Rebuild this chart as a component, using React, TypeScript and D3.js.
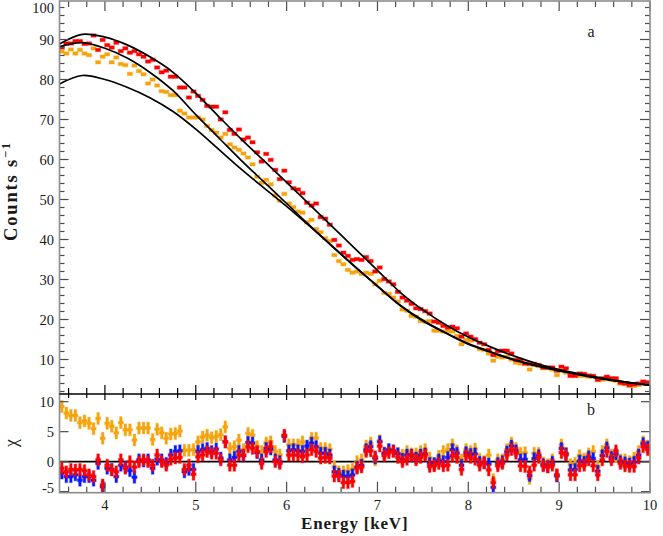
import React from 'react';
import * as d3 from 'd3';

// ---------- DATA ----------
const BIN_START = 3.5;
const BIN_WIDTH = 0.05;

// Top panel: count rates (counts/s) per 0.05 keV bin, 3.5 - 10 keV
const redCounts = [
  88.0, 89.0, 89.0, 89.6, 89.6, 88.9, 89.0, 91.0, 87.4, 89.9,
  88.6, 88.0, 89.2, 87.1, 87.8, 86.7, 87.1, 86.3, 85.7, 84.5,
  84.9, 83.0, 81.8, 82.2, 80.7, 80.7, 78.0, 78.0, 75.5, 77.0,
  75.9, 74.9, 73.4, 73.2, 73.2, 70.0, 71.8, 67.4, 66.4, 67.5,
  65.0, 65.5, 64.3, 61.8, 59.5, 61.4, 59.9, 57.4, 55.1, 57.2,
  54.3, 52.8, 52.5, 51.6, 49.2, 48.5, 49.0, 45.6, 45.2, 43.7,
  39.9, 38.5, 36.7, 35.9, 34.9, 35.1, 34.9, 35.6, 34.6, 32.0,
  33.0, 30.1, 29.5, 28.8, 26.9, 25.5, 24.7, 23.9, 22.8, 22.6,
  22.1, 21.5, 19.5, 19.2, 18.4, 18.0, 18.2, 17.8, 15.7, 16.5,
  15.7, 15.1, 14.2, 13.8, 12.4, 11.1, 12.1, 12.2, 12.2, 11.5,
  9.9, 9.9, 9.0, 8.9, 8.9, 8.6, 8.0, 8.0, 8.0, 7.2,
  8.2, 7.8, 5.9, 5.9, 6.5, 6.4, 6.0, 5.9, 4.9, 5.3,
  5.7, 5.3, 5.3, 4.2, 4.0, 3.6, 3.8, 4.0, 4.5, 4.3,
];

const orangeCounts = [
  87.0, 86.5, 87.5, 86.5, 87.4, 86.5, 86.1, 87.8, 84.3, 85.7,
  86.3, 84.3, 85.5, 83.9, 83.6, 81.4, 83.5, 82.1, 81.3, 79.0,
  80.0, 78.5, 77.1, 76.9, 76.1, 76.1, 72.2, 71.5, 70.5, 70.5,
  70.5, 70.0, 68.4, 67.4, 66.7, 65.5, 66.4, 63.8, 63.0, 62.4,
  61.5, 60.5, 58.8, 55.7, 54.2, 54.9, 53.8, 51.0, 49.7, 51.4,
  49.0, 48.1, 47.0, 46.7, 44.3, 44.9, 42.6, 41.8, 40.3, 39.6,
  36.1, 34.6, 33.8, 32.4, 31.7, 32.0, 31.4, 31.7, 31.4, 28.8,
  29.7, 26.7, 26.4, 25.5, 24.5, 22.5, 22.2, 20.9, 20.7, 19.6,
  19.5, 19.6, 17.2, 17.2, 17.0, 17.1, 17.0, 15.9, 13.8, 14.9,
  14.7, 14.9, 12.6, 12.4, 11.5, 9.7, 10.7, 10.5, 10.7, 10.0,
  9.2, 9.0, 8.9, 7.5, 8.6, 8.4, 7.8, 7.8, 7.5, 6.1,
  7.2, 6.7, 6.1, 6.1, 5.9, 5.9, 5.7, 5.7, 5.3, 4.9,
  5.3, 4.9, 4.7, 4.0, 3.9, 3.4, 3.4, 3.6, 4.0, 4.0,
];

// Model curves (knots every 0.25 keV)
const modelEnergy = [
  3.5, 3.75, 4.0, 4.25, 4.5, 4.75, 5.0, 5.25, 5.5, 5.75, 6.0, 6.25, 6.5, 6.75,
  7.0, 7.25, 7.5, 7.75, 8.0, 8.25, 8.5, 8.75, 9.0, 9.25, 9.5, 9.75, 10.0,
];
const modelUpper = [
  88.9, 91.3, 90.6, 88.6, 85.6, 81.8, 76.6, 70.8, 65.1, 59.7, 54.3, 48.8, 43.3, 37.8,
  32.3, 26.8, 22.4, 18.7, 15.6, 13.1, 10.9, 9.0, 7.5, 6.3, 5.2, 4.3, 3.6,
];
const modelMiddle = [
  88.2, 89.2, 87.8, 85.3, 81.7, 77.2, 71.2, 65.5, 59.8, 54.4, 49.0, 43.6, 38.4, 33.3,
  28.4, 23.6, 19.8, 16.7, 14.0, 11.9, 10.0, 8.5, 7.2, 6.1, 5.1, 4.3, 3.6,
];
const modelLower = [
  78.9, 81.0, 80.0, 78.0, 75.4, 72.0, 67.6, 62.6, 57.6, 52.9, 48.3, 43.4, 38.3, 33.2,
  28.3, 23.5, 19.6, 16.6, 13.8, 11.8, 9.9, 8.4, 7.2, 6.1, 5.1, 4.3, 3.6,
];

// Bottom panel: residuals (chi) per bin
const residOrange = [
  9.2, 8.1, 7.7, 7.7, 6.5, 6.8, 6.4, 5.5, 7.2, 3.9,
  6.4, 5.9, 4.8, 6.5, 5.3, 5.3, 3.6, 5.6, 5.6, 5.6,
  3.7, 5.4, 4.8, 3.9, 4.6, 4.7, 5.1, 1.9, 1.9, 2.0,
  3.3, 4.1, 4.4, 4.0, 4.2, 4.5, 5.8, 2.2, 2.5, 3.6,
  2.0, 4.7, 4.4, 2.5, 1.7, 3.1, 3.3, 1.7, 1.1, 4.3,
  2.8, 2.8, 2.8, 3.3, 2.2, 3.9, 3.9, 2.2, 2.2, 2.0,
  -0.9, -1.7, -1.7, -1.5, -1.3, 0.0, 0.3, 2.6, 3.1, 0.3,
  3.5, 1.4, 2.0, 1.8, 1.4, 1.1, 1.7, 1.3, 1.3, 1.7,
  2.0, 0.6, -0.6, 0.9, 1.7, 2.0, 2.8, 1.8, 0.3, 2.0,
  1.7, 2.1, 0.4, 0.0, 1.1, -3.0, 0.3, 0.3, 2.0, 3.1,
  2.2, 1.4, 1.5, -2.8, 1.4, 1.4, -0.2, -0.5, 0.3, -2.2,
  2.8, 1.4, -0.5, -0.3, 1.0, 0.4, 1.3, 1.7, -0.8, 1.7,
  2.8, 1.1, 0.8, 0.3, 0.3, 0.0, 0.6, 1.7, 3.3, 2.6,
];

const residBlue = [
  -1.9, -2.5, -2.5, -2.2, -3.1, -2.5, -2.5, -3.1, -0.3, -4.2,
  -1.1, -1.3, -2.5, -0.6, -0.9, -1.5, -2.6, 0.3, 0.1, 0.3,
  -1.1, 0.4, 0.3, -0.3, 1.1, 1.7, 1.8, -1.7, -1.3, -1.3,
  1.7, 2.0, 2.2, 1.7, 2.1, 0.6, 3.3, 0.3, 0.7, 1.7,
  1.0, 3.2, 3.1, 1.5, 0.3, 2.2, 2.1, 0.3, 0.0, 4.2,
  1.8, 2.0, 1.8, 1.7, 2.6, 3.1, 2.5, 1.4, 1.4, 1.1,
  -1.7, -2.1, -2.4, -2.5, -2.2, -0.9, -0.6, 2.0, 2.5, 0.6,
  3.3, 1.4, 2.0, 1.8, 1.3, 0.4, 1.1, 1.1, 0.6, 1.1,
  1.3, -0.3, -0.3, 0.3, 0.0, 0.7, 2.0, 1.4, -0.6, 1.5,
  1.2, 1.3, -0.1, -0.2, -0.4, -4.3, -0.3, 0.0, 1.6, 2.6,
  1.8, 0.3, 0.4, -2.3, 0.5, 1.0, -0.5, -0.8, -0.1, -2.4,
  2.2, 1.3, -1.4, -1.3, 0.1, -0.1, 0.8, 0.5, -1.6, 1.0,
  2.3, 0.7, 1.3, 0.0, -0.2, -0.4, -0.1, 1.1, 3.0, 2.4,
];

const residRed = [
  -1.1, -1.7, -1.3, -1.4, -1.3, -1.5, -2.2, -2.5, 0.3, -3.9,
  -0.6, -1.4, -1.7, 0.3, -1.1, 0.0, -0.9, 0.0, 0.3, 0.0,
  -0.6, 1.1, 0.0, -0.6, 0.4, 0.6, 0.7, -1.3, -0.6, -2.1,
  0.8, 1.1, 1.7, 1.4, 1.4, 0.3, 3.3, -0.6, -0.6, 1.1,
  1.1, 2.5, 2.2, 1.7, -0.3, 1.7, 2.5, 0.0, -0.3, 4.4,
  1.1, 1.1, 1.1, 0.8, 1.1, 2.0, 1.7, 0.6, 0.7, 0.6,
  -2.4, -2.4, -3.5, -3.5, -3.3, -1.1, -0.9, 1.7, 1.8, 0.8,
  2.6, 1.0, 1.5, 1.7, 0.7, 0.0, 0.4, 1.0, 0.3, 0.7,
  1.1, -0.8, -0.7, -0.3, -0.7, -0.6, 1.0, 0.7, -1.3, 1.0,
  0.7, 0.4, -0.6, -0.2, -1.4, -3.5, -0.7, -0.3, 1.1, 2.0,
  1.4, -0.7, -0.8, -1.7, -0.6, 0.7, -0.7, -0.9, -0.6, -2.2,
  1.5, 1.1, -2.2, -2.2, -0.7, -0.6, 0.3, -0.7, -2.2, 0.3,
  1.7, 0.3, 1.8, -0.3, -0.7, -0.8, -0.8, 0.6, 2.5, 2.0,
];

const xMajorTicks = [4, 5, 6, 7, 8, 9, 10];
const yTopMajorTicks = [10, 20, 30, 40, 50, 60, 70, 80, 90, 100];
const yBotMajorTicks = [-5, 0, 5, 10];

// ---------- LAYOUT ----------
const W = 663;
const H = 536;
const X0 = 59.5;
const X1 = 650;
const TOP0 = 1;
const SPLIT = 394;
const BOT1 = 492.7;

const RED = '#ff0000';
const ORANGE = '#f7a30c';
const BLUE = '#0a1aff';
const FRAME = '#8c8c8c';
const TICK = '#4d4d4d';
const FONT = '"Liberation Serif", "Times New Roman", serif';

const energies = redCounts.map((_, i) => BIN_START + BIN_WIDTH * (i + 0.5));

export default function App() {
  const x = d3.scaleLinear().domain([3.5, 10]).range([X0, X1]);
  const yTop = d3.scaleLinear().domain([1.375, 99.625]).range([SPLIT, TOP0]);
  const yBot = d3.scaleLinear().domain([-5.183, 11.283]).range([BOT1, SPLIT]);

  const xMinor = d3.range(36, 100, 2).map((v) => v / 10).filter((v) => Math.abs(v - Math.round(v)) > 0.01);
  const yTopMinor = d3.range(2, 100, 2).filter((v) => v % 10 !== 0);

  const line = d3
    .line<[number, number]>()
    .x((d) => x(d[0]))
    .y((d) => yTop(d[1]))
    .curve(d3.curveCatmullRom.alpha(0.5));
  const models = [modelUpper, modelMiddle, modelLower].map((m) =>
    line(modelEnergy.map((e, i) => [e, m[i]] as [number, number]))
  );

  const binPx = x(BIN_START + BIN_WIDTH) - x(BIN_START);

  const countPoints = (vals: number[], color: string, key: string) =>
    vals.map((v, i) => (
      <rect
        key={key + i}
        x={x(energies[i]) - binPx / 2 - 0.3}
        y={yTop(v) - 1.7}
        width={binPx + 0.6}
        height={3.4}
        fill={color}
        stroke={color}
        strokeOpacity={0.3}
        strokeWidth={1.2}
      />
    ));

  const residPoints = (vals: number[], color: string, key: string) =>
    vals.map((v, i) => {
      const cx = x(energies[i]);
      const cy = yBot(v);
      const yHi = yBot(v + 1);
      const yLo = yBot(v - 1);
      return (
        <g key={key + i}>
          <rect x={cx - 1.3} y={yHi} width={2.6} height={yLo - yHi} fill={color} stroke={color} strokeOpacity={0.3} strokeWidth={1.2} />
          <rect x={cx - binPx / 2 - 0.3} y={cy - 1.3} width={binPx + 0.6} height={2.6} fill={color} stroke={color} strokeOpacity={0.3} strokeWidth={1.2} />
        </g>
      );
    });

  return (
    <svg
      width={W}
      height={H}
      style={{ position: 'absolute', left: 0, top: 0, background: '#fff' }}
      fontFamily={FONT}
    >
      <defs>
        <clipPath id="topClip">
          <rect x={X0} y={TOP0} width={X1 - X0} height={SPLIT - TOP0} />
        </clipPath>
        <clipPath id="botClip">
          <rect x={X0} y={SPLIT} width={X1 - X0} height={BOT1 - SPLIT} />
        </clipPath>
      </defs>
      <rect x={0} y={0} width={W} height={H} fill="#fff" />

      {/* top panel data */}
      <g clipPath="url(#topClip)">
        {countPoints(orangeCounts, ORANGE, 'o')}
        {countPoints(redCounts, RED, 'r')}
        {models.map((d, i) => (
          <path key={'m' + i} d={d || ''} fill="none" stroke="#000" strokeWidth={1.7} />
        ))}
      </g>

      {/* bottom panel data */}
      <g clipPath="url(#botClip)">
        <line x1={X0} x2={X1} y1={yBot(0)} y2={yBot(0)} stroke="#000" strokeWidth={1.6} />
        {residPoints(residOrange, ORANGE, 'ro')}
        {residPoints(residBlue, BLUE, 'rb')}
        {residPoints(residRed, RED, 'rr')}
      </g>

      {/* ticks */}
      <g stroke={TICK} strokeWidth={1.2}>
        {xMajorTicks.map((t) => (
          <line key={'tt' + t} x1={x(t)} x2={x(t)} y1={TOP0} y2={TOP0 + 10} />
        ))}
        {xMinor.map((t) => (
          <line key={'tm' + t} x1={x(t)} x2={x(t)} y1={TOP0} y2={TOP0 + 6} />
        ))}
        {yTopMajorTicks.filter((t) => t < 99).map((t) => (
          <g key={'yl' + t}>
            <line x1={X0} x2={X0 + 9} y1={yTop(t)} y2={yTop(t)} />
            <line x1={X1} x2={X1 - 10} y1={yTop(t)} y2={yTop(t)} />
          </g>
        ))}
        {yTopMinor.map((t) => (
          <g key={'ym' + t}>
            <line x1={X0} x2={X0 + 5} y1={yTop(t)} y2={yTop(t)} />
            <line x1={X1} x2={X1 - 5} y1={yTop(t)} y2={yTop(t)} />
          </g>
        ))}
        {yBotMajorTicks.map((t) => (
          <g key={'bl' + t}>
            <line x1={X0} x2={X0 + 9} y1={yBot(t)} y2={yBot(t)} />
            <line x1={X1} x2={X1 - 9} y1={yBot(t)} y2={yBot(t)} />
          </g>
        ))}
        {xMajorTicks.map((t) => (
          <line key={'bb' + t} x1={x(t)} x2={x(t)} y1={BOT1} y2={BOT1 - 11} />
        ))}
        {xMinor.map((t) => (
          <line key={'bm' + t} x1={x(t)} x2={x(t)} y1={BOT1} y2={BOT1 - 6} />
        ))}
      </g>

      {/* split line ticks (black) */}
      <g stroke="#000" strokeWidth={1.2}>
        {xMajorTicks.map((t) => (
          <line key={'sm' + t} x1={x(t)} x2={x(t)} y1={SPLIT - 9} y2={SPLIT + 6} />
        ))}
        {xMinor.map((t) => (
          <line key={'sn' + t} x1={x(t)} x2={x(t)} y1={SPLIT - 6} y2={SPLIT + 4} />
        ))}
      </g>

      {/* frames */}
      <rect x={X0} y={TOP0} width={X1 - X0} height={BOT1 - TOP0} fill="none" stroke={FRAME} strokeWidth={1.6} />
      <line x1={X0} x2={X1} y1={SPLIT} y2={SPLIT} stroke="#000" strokeWidth={1.6} />

      {/* tick labels */}
      <g fontSize={14.5} fill="#1a1a1a" textAnchor="end">
        {yTopMajorTicks.map((t) => (
          <text key={'lt' + t} x={54} y={Math.max(yTop(t), 7.5)} dy="0.35em">
            {t}
          </text>
        ))}
        {yBotMajorTicks.map((t) => (
          <text key={'lb' + t} x={54} y={Math.min(yBot(t), 487.5)} dy="0.35em">
            {t}
          </text>
        ))}
      </g>
      <g fontSize={14.5} fill="#1a1a1a" textAnchor="middle">
        {xMajorTicks.map((t) => (
          <text key={'lx' + t} x={x(t)} y={510}>
            {t}
          </text>
        ))}
      </g>

      {/* panel letters */}
      <text x={591} y={37} fontSize={16} textAnchor="middle" fill="#1a1a1a">a</text>
      <text x={591} y={415} fontSize={16} textAnchor="middle" fill="#1a1a1a">b</text>

      {/* axis titles */}
      <text x={354.7} y={529} fontSize={17} fontWeight="bold" textAnchor="middle" letterSpacing={0.8} fill="#1a1a1a">
        Energy [keV]
      </text>
      <text
        transform="translate(17,191) rotate(-90)"
        fontSize={18.5}
        fontWeight="bold"
        textAnchor="middle"
        letterSpacing={1.8}
        fill="#1a1a1a"
      >
        Counts s
        <tspan fontSize={12.5} dy={-7}>−1</tspan>
      </text>
      <text transform="translate(17,443) rotate(-90)" fontSize={18} textAnchor="middle" fill="#1a1a1a">
        χ
      </text>
    </svg>
  );
}
